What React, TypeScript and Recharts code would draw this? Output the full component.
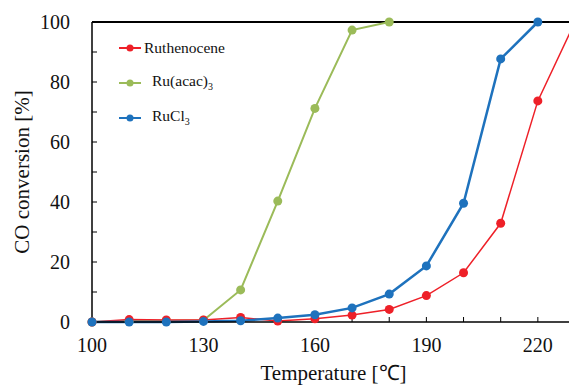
import React from 'react';
import { LineChart, Line, XAxis, YAxis, Legend, ReferenceLine } from 'recharts';

// temperatures (°C) and CO conversion (%)
const temps = [100, 110, 120, 130, 140, 150, 160, 170, 180, 190, 200, 210, 220, 230];
const ruthenocene = [0, 0.8, 0.7, 0.7, 1.5, 0.3, 1.1, 2.3, 4.2, 8.8, 16.4, 32.9, 73.7, 100];
const ruAcac = [0, 0.3, 0.4, 0.6, 10.7, 40.3, 71.2, 97.3, 100];
const ruCl3 = [0, 0, 0, 0.2, 0.4, 1.3, 2.4, 4.7, 9.3, 18.7, 39.6, 87.7, 100];

const xTicks = [100, 110, 120, 130, 140, 150, 160, 170, 180, 190, 200, 210, 220, 230];
const xLabels = [100, 130, 160, 190, 220];
const yTicks = [0, 10, 20, 30, 40, 50, 60, 70, 80, 90, 100];

const RED = '#EE2028';
const GREEN = '#9BBB59';
const BLUE = '#1E72BD';

const data = temps.map((t, i) => ({
  t,
  ruthenocene: ruthenocene[i],
  ruAcac: ruAcac[i],
  ruCl3: ruCl3[i],
}));

const FONT = '"Liberation Serif", "Times New Roman", serif';

const legendRows = [
  { color: RED, name: 'Ruthenocene', sub: '', gap: 2 },
  { color: GREEN, name: 'Ru(acac)', sub: '3', gap: 10 },
  { color: BLUE, name: 'RuCl', sub: '3', gap: 10 },
];

const ChartLegend = () => (
  <div style={{ fontFamily: FONT, fontSize: 15.5, color: '#111' }}>
    {legendRows.map((r) => (
      <div key={r.name} style={{ height: 35, display: 'flex', alignItems: 'center' }}>
        <svg width={23} height={10}>
          <line x1={0} y1={5} x2={22} y2={5} stroke={r.color} strokeWidth={2} />
          <circle cx={11} cy={5} r={3.5} fill={r.color} />
        </svg>
        <span style={{ marginLeft: r.gap }}>
          {r.name}
          {r.sub && <sub style={{ fontSize: 10 }}>{r.sub}</sub>}
        </span>
      </div>
    ))}
  </div>
);

export default function App() {
  return (
    <div style={{ position: 'absolute', left: 0, top: 0, width: 569, height: 385, overflow: 'hidden', background: '#fff', fontFamily: FONT }}>
      <LineChart width={600} height={385} data={data} margin={{ top: 22, right: 25, left: 0, bottom: 0 }} style={{ fontFamily: FONT }}>
        <XAxis
          dataKey="t"
          type="number"
          domain={[100, 230]}
          ticks={xTicks}
          tickFormatter={(v) => (xLabels.includes(v) ? String(v) : '')}
          height={63}
          tickSize={-5}
          tickMargin={21}
          axisLine={{ stroke: '#000', strokeWidth: 1.5 }}
          tickLine={{ stroke: '#000', strokeWidth: 1 }}
          tick={{ fill: '#111', fontSize: 20, fontFamily: FONT }}
          label={{ value: 'Temperature [℃]', position: 'insideBottom', offset: 5, fill: '#111', fontSize: 21 }}
        />
        <YAxis
          type="number"
          domain={[0, 100]}
          ticks={yTicks}
          tickFormatter={(v) => (v % 20 === 0 ? String(v) : '')}
          width={92}
          tickSize={-5}
          tickMargin={27}
          axisLine={{ stroke: '#000', strokeWidth: 1.5 }}
          tickLine={{ stroke: '#000', strokeWidth: 1 }}
          tick={{ fill: '#111', fontSize: 20, fontFamily: FONT }}
          label={{ value: 'CO conversion [%]', angle: -90, position: 'insideLeft', offset: 22, fill: '#111', fontSize: 21, style: { textAnchor: 'middle' } }}
        />
        <ReferenceLine y={100} stroke="#000" strokeWidth={2} />
        <Legend
          layout="horizontal"
          verticalAlign="middle"
          content={<ChartLegend />}
          wrapperStyle={{ left: 119, top: 30, width: 180 }}
        />
        <Line dataKey="ruAcac" stroke={GREEN} strokeWidth={2} dot={{ r: 4.5, fill: GREEN, stroke: GREEN, strokeWidth: 0 }} isAnimationActive={false} />
        <Line dataKey="ruthenocene" stroke={RED} strokeWidth={1.5} dot={{ r: 4.5, fill: RED, stroke: RED, strokeWidth: 0 }} isAnimationActive={false} />
        <Line dataKey="ruCl3" stroke={BLUE} strokeWidth={2.5} dot={{ r: 4.5, fill: BLUE, stroke: BLUE, strokeWidth: 0 }} isAnimationActive={false} />
      </LineChart>
    </div>
  );
}
